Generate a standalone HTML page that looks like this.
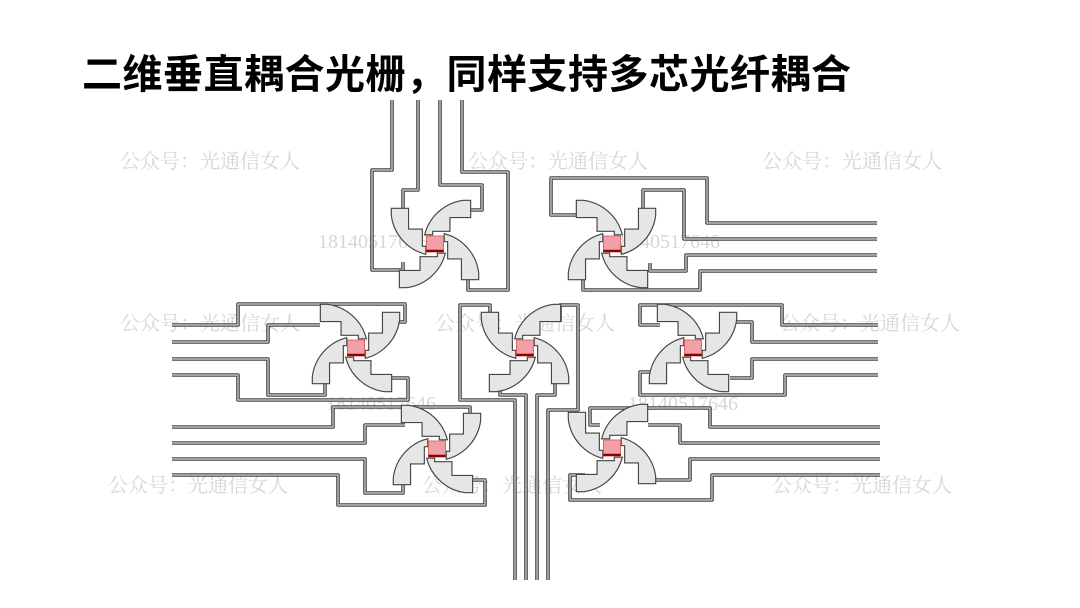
<!DOCTYPE html>
<html><head><meta charset="utf-8"><style>
html,body{margin:0;padding:0;background:#fff;}
body{width:1080px;height:608px;overflow:hidden;position:relative;}
.t{position:absolute;left:82px;top:42px;font:bold 40px "Liberation Sans","Noto Sans CJK SC",sans-serif;color:#000;letter-spacing:0.5px;white-space:nowrap;}
.w{font-family:"Liberation Serif","Noto Serif CJK SC",serif;font-size:20px;fill:#d6d6d6;}
</style></head><body>
<div class="t">二维垂直耦合光栅，同样支持多芯光纤耦合</div>
<svg width="1080" height="608" style="position:absolute;left:0;top:0">
<defs>
<g id="pw">
 <g transform="scale(1.15)">
 <g id="bl">
  <path d="M-9,-8 A40,40 0 0 1 25,-38 L31,-38 L31,-23 L13,-23 L13,-11 L-2,-11 L-2,-8 Z" fill="#e6e6e6" stroke="#444" stroke-width="1"/>
 </g>
 <use href="#bl" transform="rotate(90)"/>
 <use href="#bl" transform="rotate(180)"/>
 <use href="#bl" transform="rotate(270)"/>
 <rect x="-7.5" y="-7" width="15" height="14" fill="#f2a0a8" stroke="#c33" stroke-width="0.5"/>
 <rect x="-7.5" y="5" width="15" height="2" fill="#800"/>
 </g>
</g>
<g id="pwm"><use href="#pw" transform="scale(-1,1)"/></g>
</defs>
<g class="w">
<text x="120" y="168">公众号：光通信女人</text><text x="468" y="168">公众号：光通信女人</text><text x="762" y="168">公众号：光通信女人</text>
<text x="120" y="330">公众号：光通信女人</text><text x="435" y="330">公众号：光通信女人</text><text x="780" y="330">公众号：光通信女人</text>
<text x="108" y="492">公众号：光通信女人</text><text x="422" y="492">公众号：光通信女人</text><text x="772" y="492">公众号：光通信女人</text>
<text x="318" y="248">18140517646</text><text x="610" y="248">18140517646</text>
<text x="326" y="410">18140517646</text><text x="628" y="410">18140517646</text>
</g>
<g id="wg" fill="none" stroke="#444" stroke-width="3.6" stroke-linejoin="round">
<path id="p" d="
M392,100 V170 H372 V270 H403 V262
M418,100 V190 H403 V220
M440,100 V185 H482 V210 H470
M462,100 V172 H508 V290 H468 V272
M877,223 H707 V178 H551 V215 H578
M877,239 H684 V190 H643 V220
M877,255 H686 V271 H650 V263
M877,271 H700 V290 H583 V272
M172,325 H238 V304 H405 V322 H392
M172,342 H268 V325 H320
M172,359 H268 V395 H325 V380
M172,375 H238 V400 H408 V378 H392
M172,427 H333 V407 H470 V425
M172,443 H365 V425 H405
M172,459 H365 V493 H403 V480
M172,475 H338 V505 H485 V480 H470
M515,580 V400 H460 V305 H490 V320
M526,580 V395 H500 V380
M537,580 V395 H555 V378
M548,580 V410 H578 V305 H560 V322
M878,325 H782 V305 H640 V325 H660
M878,342 H752 V322 H725
M878,359 H752 V378 H730
M878,375 H785 V395 H640 V372 H665
M880,427 H710 V408 H590 V425 H600
M880,443 H680 V425 H648
M880,459 H690 V480 H650
M880,475 H712 V500 H570 V475 H585"/>
</g>
<use href="#p" fill="none" stroke="#d8d8d8" stroke-width="1.2" stroke-linejoin="round"/>
<use href="#pw" x="435" y="244"/>
<use href="#pwm" transform="translate(612,244)"/>
<use href="#pwm" transform="translate(356,348)"/>
<use href="#pw" x="525" y="348"/>
<use href="#pwm" transform="translate(693,348)"/>
<use href="#pwm" transform="translate(437,449)"/>
<use href="#pw" x="612" y="448"/>
</svg>
</body></html>
